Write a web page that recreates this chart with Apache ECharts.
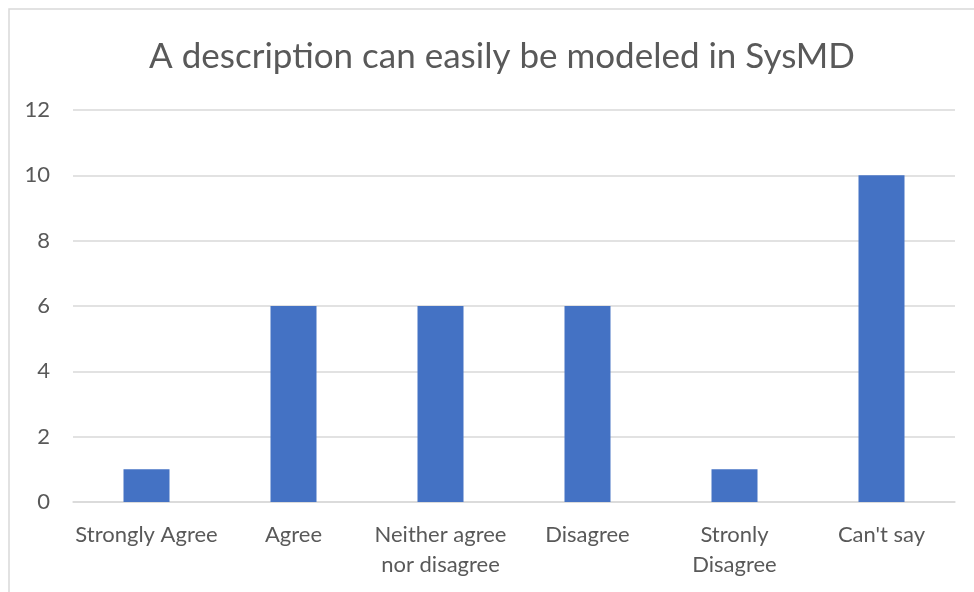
<!DOCTYPE html>
<html>
<head>
<meta charset="utf-8">
<script src="https://cdn.jsdelivr.net/npm/echarts@6/dist/echarts.min.js"></script>
<style>
  html, body { margin: 0; padding: 0; background: #fff; }
  #chart { width: 974px; height: 592px; }
</style>
</head>
<body>
<div id="chart"></div>
<script>
// Survey responses
const categories = ['Strongly Agree', 'Agree', 'Neither agree\nnor disagree', 'Disagree', 'Stronly\nDisagree', "Can't say"];
const counts = [1, 6, 6, 6, 1, 10];
const yTicks = { min: 0, max: 12, interval: 2 };

const chart = echarts.init(document.getElementById('chart'));
const font = 'Lato, "Open Sans", sans-serif';

chart.setOption({
  animation: false,
  backgroundColor: '#ffffff',
  title: {
    text: 'A description can easily be modeled in SysMD',
    left: 497,
    textAlign: 'center',
    top: 34,
    textStyle: { fontFamily: font, fontSize: 35, fontWeight: 'normal', color: '#595959' }
  },
  graphic: [{
    type: 'rect',
    shape: { x: 9, y: 9, width: 1000, height: 620 },
    style: { fill: 'none', stroke: '#d9d9d9', lineWidth: 1.5 },
    silent: true
  }],
  grid: { left: 73, right: 19, top: 110, bottom: 90, containLabel: false },
  xAxis: {
    type: 'category',
    data: categories,
    axisTick: { show: false },
    axisLine: { lineStyle: { color: '#d9d9d9', width: 1.5 } },
    axisLabel: {
      interval: 0,
      margin: 18,
      fontFamily: font,
      fontSize: 22,
      lineHeight: 30,
      color: '#595959'
    }
  },
  yAxis: {
    type: 'value',
    min: yTicks.min,
    max: yTicks.max,
    interval: yTicks.interval,
    axisLine: { show: false },
    axisTick: { show: false },
    splitLine: { lineStyle: { color: '#d9d9d9', width: 1.5 } },
    axisLabel: { margin: 23, fontFamily: font, fontSize: 22, color: '#595959' }
  },
  series: [{
    type: 'bar',
    data: counts,
    barWidth: 46,
    itemStyle: { color: '#4472C4' }
  }]
});
</script>
</body>
</html>
